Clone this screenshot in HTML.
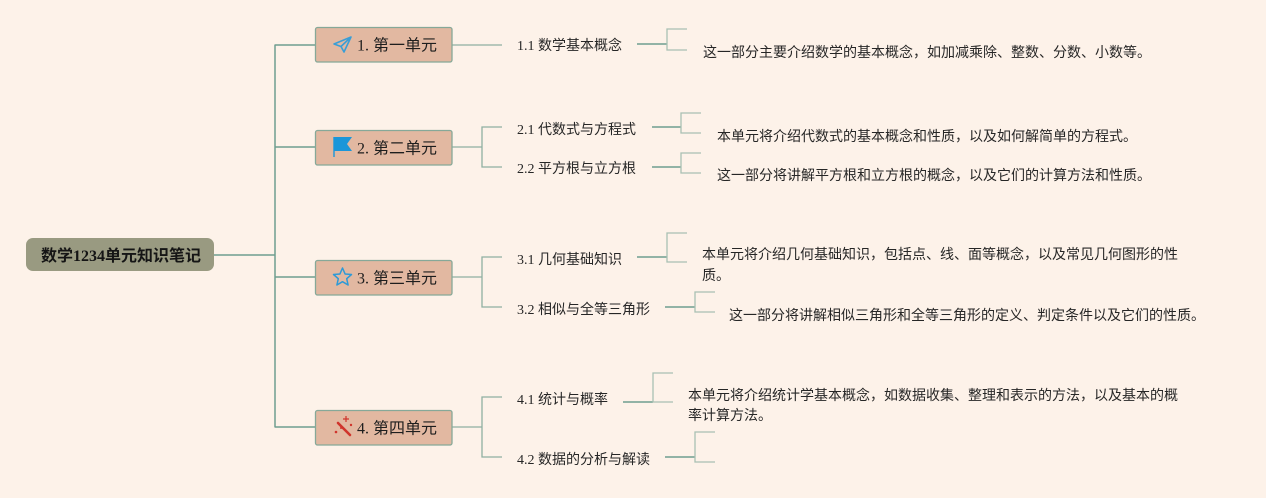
<!DOCTYPE html>
<html><head><meta charset="utf-8"><style>
html,body{margin:0;padding:0;background:#fdf2e9;}
svg{display:block;}
text{font-family:"Liberation Serif","Noto Sans CJK SC",sans-serif;fill:#222;}
.d{font-family:"Liberation Sans","Noto Sans CJK SC",sans-serif;font-size:14px;fill:#262626;}
.s{font-size:14px;fill:#262626;}
.u{font-size:16px;fill:#1e1e1e;}
</style></head><body>
<svg width="1266" height="498" viewBox="0 0 1266 498" xmlns="http://www.w3.org/2000/svg">
<rect width="1266" height="498" fill="#fdf2e9"/>
<!-- main connectors -->
<g stroke="#6f9e90" stroke-width="1.5" fill="none">
<path d="M214,255 H275"/>
<path d="M275,44.5 V427.5"/>
<path d="M275,45 H315 M275,147 H315 M275,277 H315 M275,427 H315"/>
</g>
<!-- unit to subtopics -->
<g stroke="#8fb0a2" stroke-width="1.3" fill="none">
<path d="M452,45 H502"/>
<path d="M452,147 H482 M502,127 H482 V167 H502"/>
<path d="M452,277 H482 M502,257 H482 V307 H502"/>
<path d="M452,427 H482 M502,397 H482 V457 H502"/>
</g>
<!-- subtopic to leaf -->
<g stroke="#6f9e90" stroke-width="1.5" fill="none">
<path d="M637,44 H667"/>
<path d="M652,127 H681"/>
<path d="M652,167 H681"/>
<path d="M637,257 H667"/>
<path d="M665,307 H695"/>
<path d="M623,402 H653"/>
<path d="M665,457 H695"/>
</g>
<g stroke="#a9c0b3" stroke-width="1.3" fill="none">
<path d="M687,29 H667 V50 H687"/>
<path d="M701,113 H681 V133 H701"/>
<path d="M701,153 H681 V173 H701"/>
<path d="M687,233 H667 V262 H687"/>
<path d="M715,292 H695 V312 H715"/>
<path d="M673,373 H653 V402 H673"/>
<path d="M715,432 H695 V462 H715"/>
</g>
<!-- root -->
<rect x="26" y="238" width="188" height="33" rx="7" fill="#999a81"/>
<text x="41" y="261" style="font-size:16px;font-weight:bold;fill:#151515">数学1234单元知识笔记</text>
<!-- unit boxes -->
<g fill="#e2b8a1" stroke="#86a898" stroke-width="1.3">
<rect x="315.5" y="27.5" width="136.5" height="34.5" rx="2"/>
<rect x="315.5" y="130.5" width="136.5" height="34.5" rx="2"/>
<rect x="315.5" y="260.5" width="136.5" height="34.5" rx="2"/>
<rect x="315.5" y="410.5" width="136.5" height="34.5" rx="2"/>
</g>
<!-- icons -->
<g fill="none" stroke="#3a9ed6" stroke-width="1.6" stroke-linejoin="round">
<path d="M351,37 L334,44 L341,46.5 L344,52 Z M341,46.5 L351,37"/>
</g>
<path d="M334,137 V157" stroke="#1b96d9" stroke-width="1.4"/>
<path d="M334,137 H352 L347,144 L352,151 H334 Z" fill="#1b96d9"/>
<path d="M342.5,268 L345.1,274 L351.5,274.5 L346.7,278.7 L348.1,285 L342.5,281.7 L336.9,285 L338.3,278.7 L333.5,274.5 L339.9,274 Z" fill="none" stroke="#2e9ad6" stroke-width="1.5" stroke-linejoin="round"/>
<g stroke="#d0342c" fill="#d0342c">
<path d="M338,423 L350,435" stroke-width="2.6" stroke-linecap="round"/>
<path d="M346,416 V422 M343,419 H349" stroke-width="1.2"/>
<circle cx="336" cy="432" r="1.3" stroke="none"/>
<circle cx="351" cy="425" r="1.2" stroke="none"/>
<circle cx="341" cy="428" r="1" stroke="none"/>
</g>
<text class="u" x="357" y="50.5">1. 第一单元</text>
<text class="u" x="357" y="153.5">2. 第二单元</text>
<text class="u" x="357" y="283.5">3. 第三单元</text>
<text class="u" x="357" y="433.5">4. 第四单元</text>
<!-- subtopics -->
<text class="s" x="517" y="50">1.1 数学基本概念</text>
<text class="s" x="517" y="134">2.1 代数式与方程式</text>
<text class="s" x="517" y="173">2.2 平方根与立方根</text>
<text class="s" x="517" y="264">3.1 几何基础知识</text>
<text class="s" x="517" y="314">3.2 相似与全等三角形</text>
<text class="s" x="517" y="404">4.1 统计与概率</text>
<text class="s" x="517" y="464">4.2 数据的分析与解读</text>
<!-- descriptions -->
<text class="d" x="703" y="57">这一部分主要介绍数学的基本概念，如加减乘除、整数、分数、小数等。</text>
<text class="d" x="717" y="141">本单元将介绍代数式的基本概念和性质，以及如何解简单的方程式。</text>
<text class="d" x="717" y="180">这一部分将讲解平方根和立方根的概念，以及它们的计算方法和性质。</text>
<text class="d" x="702" y="259">本单元将介绍几何基础知识，包括点、线、面等概念，以及常见几何图形的性</text>
<text class="d" x="702" y="280">质。</text>
<text class="d" x="729" y="320">这一部分将讲解相似三角形和全等三角形的定义、判定条件以及它们的性质。</text>
<text class="d" x="688" y="400">本单元将介绍统计学基本概念，如数据收集、整理和表示的方法，以及基本的概</text>
<text class="d" x="688" y="420">率计算方法。</text>
</svg>
</body></html>
